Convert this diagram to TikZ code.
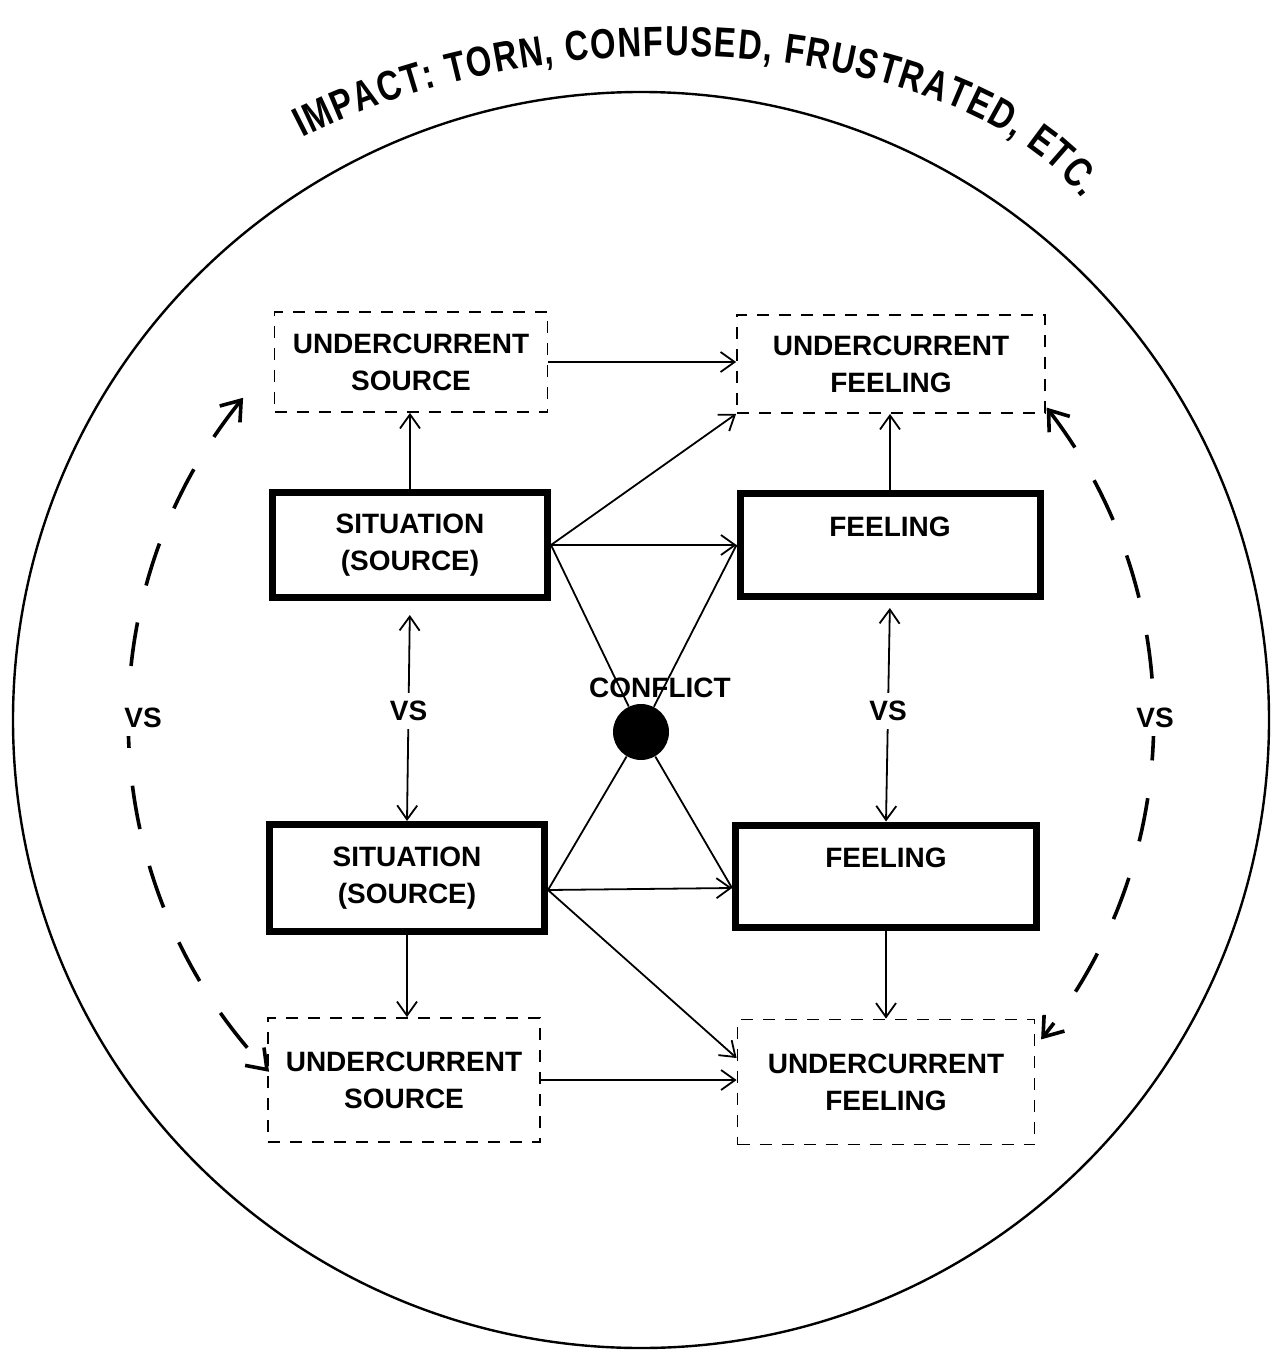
\documentclass[tikz,border=0pt]{standalone}
\usepackage{fontspec}
\setmainfont{Liberation Sans}
\newfontfamily\titlefont[FakeStretch=0.78]{Liberation Sans}
\usetikzlibrary{arrows.meta,decorations.text,calc}
\begin{document}
\begin{tikzpicture}[x=0.5pt,y=-0.5pt,
  lbl/.style={font=\fontsize{14}{18.5}\selectfont\bfseries, align=center},
  thickbox/.style={draw, line width=3.5pt, lbl, inner sep=0pt},
  dashbox/.style={draw, line width=0.9pt, dash pattern=on 6pt off 5pt, lbl, inner sep=0pt},
  arr/.style={line width=0.9pt, -{Straight Barb[length=7pt,width=10pt,line width=0.9pt]}},
  dbl/.style={line width=0.9pt, {Straight Barb[length=7pt,width=10pt,line width=0.9pt]}-{Straight Barb[length=7pt,width=10pt,line width=0.9pt]}},
  ln/.style={line width=0.9pt},
  bigarr/.style={line width=1.8pt, dash pattern=on 22pt off 19pt, {Straight Barb[length=9pt,width=13pt,line width=1.8pt]}-{Straight Barb[length=9pt,width=13pt,line width=1.8pt]}},
  vslbl/.style={lbl, fill=white, inner sep=4pt},
]
\useasboundingbox (0,0) rectangle (1272,1353);

% outer circle
\coordinate (O) at (641,720);
\draw[line width=1.2pt] (O) circle[radius=628];

% curved title
\path[decorate, decoration={text along path,
  text={|\titlefont\fontsize{21}{21}\selectfont\bfseries|IMPACT:  TORN, CONFUSED, FRUSTRATED, ETC.},
  text align=fit to path}]
  (302,138) .. controls (560,5) and (960,40) .. (1082,198);

% nodes
\node[dashbox, minimum width=136.5pt, minimum height=50pt] (uS1) at (411,362) {UNDERCURRENT\\SOURCE};
\node[dashbox, minimum width=154pt, minimum height=49pt] (uF1) at (891,364) {UNDERCURRENT\\FEELING};
\node[thickbox, minimum width=137.5pt, minimum height=52.5pt] (S1) at (410,545) {SITUATION\\(SOURCE)};
\node[thickbox, minimum width=150pt, minimum height=51.5pt] (F1) at (890,545) {FEELING\\\mbox{}};
\node[thickbox, minimum width=137.5pt, minimum height=53.5pt] (S2) at (407,878) {SITUATION\\(SOURCE)};
\node[thickbox, minimum width=150.5pt, minimum height=51pt] (F2) at (886,876) {FEELING\\\mbox{}};
\node[dashbox, minimum width=136pt, minimum height=62pt] (uS2) at (404,1080) {UNDERCURRENT\\SOURCE};
\node[dashbox, minimum width=148.5pt, minimum height=62.5pt] (uF2) at (886,1082) {UNDERCURRENT\\FEELING};
\node[circle, fill=black, minimum size=28pt, inner sep=0pt] (C) at (641,732) {};

\coordinate (s2e) at ([yshift=-6pt]S2.east);
\coordinate (f2w) at ([yshift=-6pt]F2.west);

% connectors top
\draw[arr] (S1.north) -- (S1.north |- uS1.south);
\draw[arr] (uS1.east) -- (uS1.east -| uF1.west);
\draw[arr] (S1.east) -- (uF1.south west);
\draw[arr] (S1.east) -- (F1.west);
\draw[ln] (S1.east) -- (C);
\draw[ln] (C) -- (F1.west);
\draw[arr] (F1.north) -- (F1.north |- uF1.south);

% connectors bottom
\draw[arr] (s2e) -- (f2w);
\draw[ln] (s2e) -- (C);
\draw[ln] (C) -- (f2w);
\draw[arr] (s2e) -- ([yshift=12pt]uF2.west);
\draw[arr] (S2.south) -- (S2.south |- uS2.north);
\draw[arr] (F2.south) -- (F2.south |- uF2.north);
\draw[arr] (uS2.east) -- (uS2.east -| uF2.west);

% vs connectors
\draw[dbl, shorten <=7pt] (S1.south) -- node[vslbl] (vs1) {VS} (S2.north);
\draw[dbl, shorten <=4pt] (F1.south) -- node[vslbl] (vs2) {VS} (F2.north);

% dashed outer arcs
\draw[bigarr] ($(O)+(-141:512)$) arc[start angle=-141, end angle=-223.4, radius=512];
\draw[bigarr] ($(O)+(-37.6:512)$) arc[start angle=-37.6, end angle=38.6, radius=512];
\node[vslbl] (vsL) at (143,718) {VS};
\node[vslbl] (vsR) at (1155,718) {VS};

\node[lbl] (CL) at (660,688) {CONFLICT};
\end{tikzpicture}
\end{document}
